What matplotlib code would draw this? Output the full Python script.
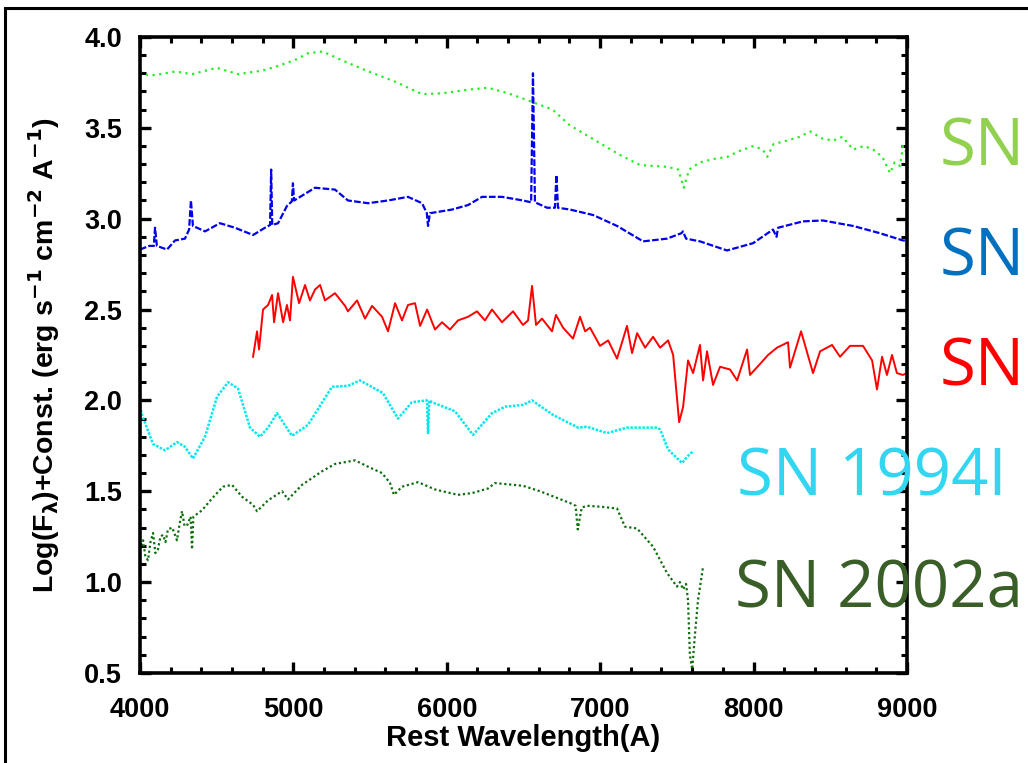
import matplotlib
matplotlib.use('Agg')
import matplotlib.pyplot as plt
from matplotlib.patches import Rectangle
from matplotlib.ticker import MultipleLocator

plt.rcParams['font.family'] = ['Liberation Sans', 'DejaVu Sans']
plt.rcParams['mathtext.default'] = 'bf'

# spectra: rest wavelength (A) and log flux + offset
green_wave = [4000, 4050, 4100, 4230, 4340, 4500, 4640, 4800, 4900, 5010,
              5095, 5190, 5320, 5490, 5660, 5840, 5970, 6140, 6270, 6400,
              6500, 6690, 6800, 6950, 7130, 7260, 7440, 7510, 7545, 7580,
              7650, 7750, 7830, 7900, 8000, 8060, 8090, 8130, 8220, 8300,
              8370, 8450, 8520, 8580, 8650, 8720, 8780, 8840, 8890, 8920,
              8955, 8975, 9000]
green_flux = [3.81, 3.79, 3.79, 3.81, 3.795, 3.83, 3.795, 3.815, 3.84, 3.873,
              3.91, 3.92, 3.87, 3.81, 3.755, 3.685, 3.69, 3.71, 3.72, 3.69,
              3.66, 3.60, 3.515, 3.44, 3.35, 3.295, 3.285, 3.27, 3.17, 3.27,
              3.31, 3.33, 3.34, 3.37, 3.40, 3.38, 3.34, 3.41, 3.43, 3.45,
              3.48, 3.44, 3.43, 3.45, 3.38, 3.40, 3.38, 3.34, 3.25, 3.31,
              3.29, 3.40, 3.36]

blue_wave = [4000, 4060, 4090, 4098, 4110, 4176, 4228, 4293, 4320, 4332,
             4345, 4424, 4521, 4619, 4737, 4815, 4848, 4855, 4862, 4900,
             4958, 4990, 4997, 5005, 5141, 5271, 5356, 5487, 5617, 5747,
             5839, 5870, 5878, 5890, 6034, 6139, 6230, 6360, 6497, 6550,
             6562, 6575, 6654, 6705, 6715, 6725, 6804, 6954, 7110, 7280,
             7436, 7530, 7540, 7560, 7651, 7827, 7997, 8127, 8150, 8160,
             8322, 8452, 8648, 8824, 8974, 9000]
blue_flux = [2.83, 2.85, 2.85, 2.95, 2.85, 2.83, 2.88, 2.89, 2.94, 3.10,
             2.96, 2.93, 2.975, 2.95, 2.91, 2.95, 2.965, 3.27, 2.965, 2.975,
             3.07, 3.095, 3.195, 3.10, 3.17, 3.16, 3.10, 3.085, 3.10, 3.12,
             3.085, 3.03, 2.96, 3.03, 3.05, 3.075, 3.12, 3.12, 3.10, 3.09,
             3.80, 3.09, 3.06, 3.06, 3.24, 3.06, 3.05, 3.02, 2.96, 2.875,
             2.89, 2.92, 2.93, 2.89, 2.875, 2.825, 2.865, 2.94, 2.90, 2.95,
             2.985, 2.99, 2.96, 2.92, 2.88, 2.88]

red_wave = [4737, 4763, 4776, 4802, 4835, 4861, 4874, 4900, 4933, 4958,
            4978, 4997, 5037, 5076, 5108, 5141, 5174, 5206, 5271, 5337,
            5356, 5415, 5467, 5513, 5578, 5617, 5663, 5708, 5747, 5793,
            5826, 5872, 5923, 5969, 6021, 6073, 6139, 6197, 6249, 6295,
            6360, 6432, 6497, 6530, 6556, 6582, 6621, 6686, 6712, 6758,
            6823, 6869, 6902, 6934, 6999, 7052, 7110, 7143, 7175, 7208,
            7241, 7293, 7345, 7391, 7443, 7476, 7515, 7541, 7573, 7606,
            7651, 7671, 7697, 7736, 7782, 7847, 7893, 7958, 7977, 8042,
            8095, 8153, 8225, 8238, 8310, 8388, 8434, 8512, 8564, 8629,
            8714, 8773, 8805, 8838, 8870, 8903, 8935, 8974, 9000]
red_flux = [2.24, 2.38, 2.28, 2.50, 2.525, 2.58, 2.43, 2.59, 2.43, 2.525,
            2.44, 2.68, 2.535, 2.635, 2.55, 2.61, 2.635, 2.55, 2.59, 2.52,
            2.49, 2.55, 2.45, 2.52, 2.46, 2.38, 2.535, 2.44, 2.525, 2.535,
            2.41, 2.50, 2.39, 2.43, 2.39, 2.44, 2.46, 2.49, 2.44, 2.50,
            2.43, 2.49, 2.415, 2.44, 2.63, 2.415, 2.45, 2.38, 2.47, 2.40,
            2.34, 2.46, 2.38, 2.40, 2.30, 2.33, 2.23, 2.32, 2.41, 2.26,
            2.37, 2.29, 2.35, 2.29, 2.33, 2.25, 1.88, 1.965, 2.22, 2.15,
            2.305, 2.11, 2.27, 2.085, 2.185, 2.17, 2.11, 2.28, 2.14, 2.20,
            2.25, 2.29, 2.32, 2.18, 2.38, 2.15, 2.27, 2.305, 2.24, 2.30,
            2.30, 2.22, 2.06, 2.24, 2.14, 2.25, 2.15, 2.14, 2.15]

cyan_wave = [4000, 4013, 4085, 4163, 4241, 4293, 4345, 4424, 4502, 4574,
             4639, 4717, 4782, 4835, 4893, 4991, 5095, 5252, 5356, 5434,
             5584, 5682, 5773, 5871, 5878, 5886, 5904, 6054, 6171, 6295,
             6380, 6497, 6556, 6693, 6856, 6914, 7045, 7175, 7371, 7391,
             7443, 7534, 7567, 7606]
cyan_flux = [1.97, 1.92, 1.76, 1.725, 1.77, 1.745, 1.68, 1.80, 2.02, 2.10,
             2.065, 1.85, 1.80, 1.85, 1.93, 1.805, 1.865, 2.075, 2.08, 2.11,
             2.04, 1.90, 1.99, 2.00, 1.82, 2.00, 1.99, 1.94, 1.81, 1.93,
             1.965, 1.975, 2.00, 1.92, 1.85, 1.855, 1.82, 1.85, 1.85, 1.84,
             1.73, 1.655, 1.69, 1.72]

dgreen_wave = [4010, 4020, 4035, 4052, 4068, 4085, 4100, 4117, 4133, 4150,
               4166, 4182, 4210, 4241, 4258, 4274, 4290, 4306, 4330, 4339,
               4348, 4404, 4469, 4541, 4600, 4665, 4737, 4763, 4835, 4926,
               4965, 5056, 5187, 5271, 5402, 5487, 5578, 5630, 5656, 5708,
               5813, 5923, 6073, 6165, 6269, 6314, 6497, 6608, 6804, 6840,
               6854, 6880, 6914, 6999, 7110, 7162, 7241, 7345, 7436, 7501,
               7520, 7541, 7560, 7573, 7585, 7600, 7619, 7638, 7671]
dgreen_flux = [1.20, 1.23, 1.14, 1.12, 1.22, 1.27, 1.16, 1.18, 1.25, 1.26,
               1.22, 1.29, 1.30, 1.23, 1.32, 1.39, 1.31, 1.31, 1.36, 1.18,
               1.36, 1.395, 1.46, 1.525, 1.535, 1.47, 1.425, 1.39, 1.45, 1.50,
               1.455, 1.535, 1.61, 1.65, 1.67, 1.635, 1.60, 1.545, 1.48, 1.525,
               1.55, 1.51, 1.48, 1.49, 1.515, 1.545, 1.53, 1.50, 1.435, 1.42,
               1.29, 1.41, 1.42, 1.415, 1.405, 1.305, 1.295, 1.195, 1.05, 0.975,
               1.00, 0.96, 0.99, 0.90, 0.60, 0.52, 0.72, 0.90, 1.085]

sn_labels = ['SN', 'SN', 'SN', 'SN 1994I', 'SN 2002ap']
sn_colors = ['#92D050', '#0070C0', '#FF0000', '#33D6F0', '#3A5E28']

fig = plt.figure(figsize=(10.28, 7.63), dpi=100)
ax = fig.add_axes([0.1362, 0.118, 0.746, 0.8336])

ax.plot(green_wave, green_flux, color='#22EE22', lw=1.6, ls=(0, (1, 2)))
ax.plot(blue_wave, blue_flux, color='#0000EE', lw=1.6, ls=(0, (3, 1)))
ax.plot(red_wave, red_flux, color='#FF0000', lw=1.4, ls='-')
ax.plot(cyan_wave, cyan_flux, color='#00E8EE', lw=1.8, ls=(0, (1, 0.6)))
ax.plot(dgreen_wave, dgreen_flux, color='#0E6E0E', lw=1.6, ls=(0, (1, 1.2)))

ax.set_xlim(4000, 9000)
ax.set_ylim(0.5, 4.0)
ax.xaxis.set_major_locator(MultipleLocator(1000))
ax.xaxis.set_minor_locator(MultipleLocator(200))
ax.yaxis.set_major_locator(MultipleLocator(0.5))
ax.yaxis.set_minor_locator(MultipleLocator(0.1))
ax.yaxis.set_major_formatter(plt.FormatStrFormatter('%.1f'))
ax.tick_params(which='both', direction='in', top=True, right=True)
ax.tick_params(which='major', length=8, width=2.4, labelsize=19.5)
ax.tick_params(axis='x', which='major', pad=17)
ax.tick_params(axis='y', which='major', pad=13)
ax.tick_params(which='minor', length=4.5, width=2.2)
for lab in ax.get_xticklabels() + ax.get_yticklabels():
    lab.set_fontweight('bold')
for sp in ax.spines.values():
    sp.set_linewidth(2.6)

ax.set_xlabel('Rest Wavelength(A)', fontsize=21, fontweight='bold', labelpad=1)
ax.set_ylabel(r'Log(F$_\lambda$)+Const. (erg s$^{-1}$ cm$^{-2}$ A$^{-1}$)',
              fontsize=20.5, fontweight='bold', labelpad=16)

# supernova names to the right of the spectra
label_x = [940, 940, 940, 737, 735]
label_y = [165, 275, 385, 496, 607]
for txt, c, lx, ly in zip(sn_labels, sn_colors, label_x, label_y):
    fig.text(lx / 1028, 1 - ly / 763, txt, color=c, fontsize=47,
             family='Open Sans', ha='left', va='baseline')

# slide frame
fig.patches.append(Rectangle((5 / 1028, -0.1), 1.2, 1.1 - 8 / 763,
                             transform=fig.transFigure, fill=False,
                             edgecolor='black', lw=2.2))

fig.savefig('out.png', dpi=100)
